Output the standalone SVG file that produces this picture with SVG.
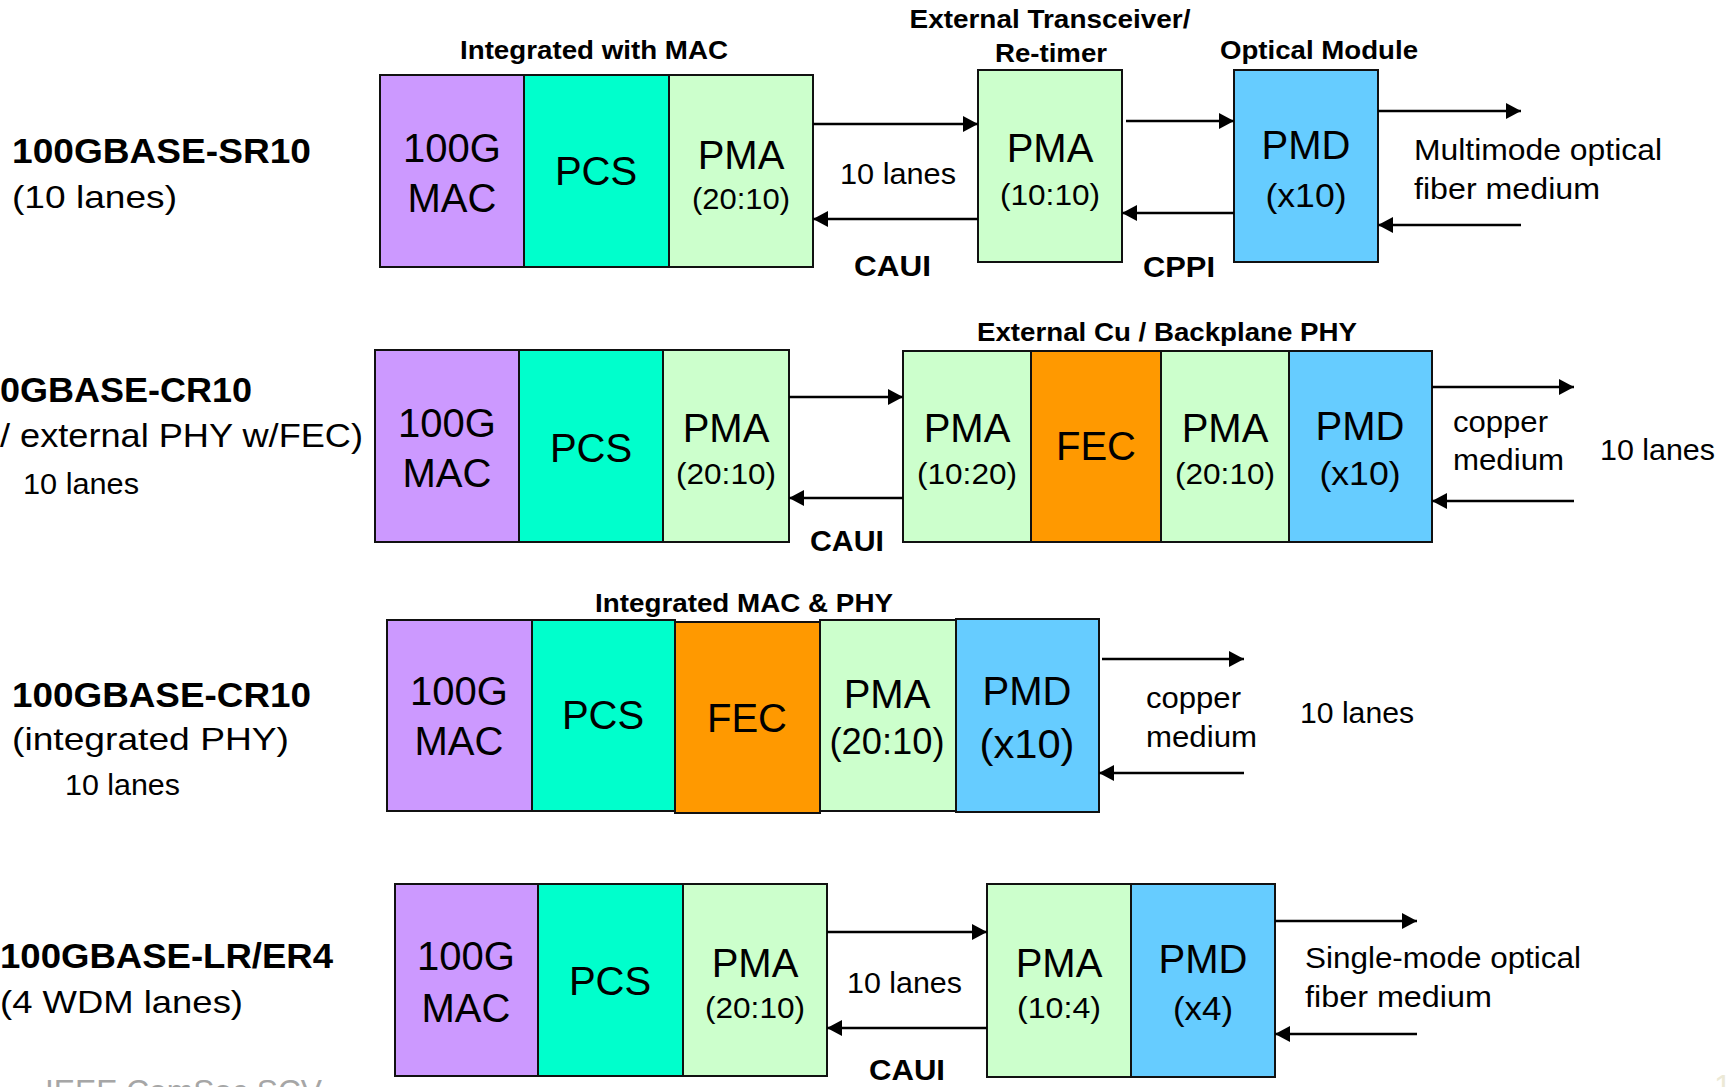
<svg xmlns="http://www.w3.org/2000/svg" width="1733" height="1087" viewBox="0 0 1733 1087">
<style>
text{font-family:"Liberation Sans",Arial,sans-serif;fill:#000}
.t{font-weight:bold;font-size:35px}
.s{font-size:32px}
.h{font-weight:bold;font-size:26px}
.b{font-size:40px;text-anchor:middle}
.sub{font-size:30px;text-anchor:middle}
.m{font-size:29px}
.lb{font-weight:bold;font-size:29px}
.box{stroke:#111;stroke-width:2}
.mac{fill:#cc99ff}.pcs{fill:#00ffcc}.pma{fill:#ccffcc}.pmd{fill:#66ccff}.fec{fill:#ff9900}
.c line{stroke:#000;stroke-width:2.6;marker-end:url(#ah)}
</style>
<defs>
<marker id="ah" markerUnits="userSpaceOnUse" markerWidth="16" markerHeight="16" refX="15" refY="8" orient="auto"><path d="M0,0 L15,8 L0,16 z" fill="#000"/></marker>
</defs>
<rect x="0" y="0" width="1733" height="1087" fill="#fff"/>

<!-- Row 1 -->
<g id="row1-label">
<text class="t" x="12" y="163" textLength="299" lengthAdjust="spacingAndGlyphs">100GBASE-SR10</text>
<text class="s" x="12" y="208" textLength="165" lengthAdjust="spacingAndGlyphs">(10 lanes)</text>
<text class="h" x="594" y="59" text-anchor="middle" textLength="268" lengthAdjust="spacingAndGlyphs">Integrated with MAC</text>
</g>
<g id="r1-mac"><rect class="box mac" x="380" y="75" width="144" height="192"/><text class="b" x="452" y="162">100G</text><text class="b" x="452" y="212">MAC</text></g>
<g id="r1-pcs"><rect class="box pcs" x="524" y="75" width="145" height="192"/><text class="b" x="596" y="185">PCS</text></g>
<g id="r1-pma"><rect class="box pma" x="669" y="75" width="144" height="192"/><text class="b" x="741" y="169">PMA</text><text class="sub" x="741" y="209" textLength="98" lengthAdjust="spacingAndGlyphs">(20:10)</text></g>
<g id="r1-ext-label">
<text class="h" x="1050" y="28" text-anchor="middle" textLength="281" lengthAdjust="spacingAndGlyphs">External Transceiver/</text>
<text class="h" x="1051" y="62" text-anchor="middle" textLength="112" lengthAdjust="spacingAndGlyphs">Re-timer</text>
</g>
<g id="r1-ext-pma"><rect class="box pma" x="978" y="70" width="144" height="192"/><text class="b" x="1050" y="162">PMA</text><text class="sub" x="1050" y="205" textLength="100" lengthAdjust="spacingAndGlyphs">(10:10)</text></g>
<g id="r1-optical-label"><text class="h" x="1319" y="59" text-anchor="middle" textLength="198" lengthAdjust="spacingAndGlyphs">Optical Module</text></g>
<g id="r1-pmd"><rect class="box pmd" x="1234" y="70" width="144" height="192"/><text class="b" x="1306" y="159">PMD</text><text class="sub" x="1306" y="207" style="font-size:34px" textLength="81" lengthAdjust="spacingAndGlyphs">(x10)</text></g>
<g id="r1-medium">
<text class="m" x="1414" y="160" textLength="248" lengthAdjust="spacingAndGlyphs">Multimode optical</text>
<text class="m" x="1414" y="199" textLength="186" lengthAdjust="spacingAndGlyphs">fiber medium</text>
</g>
<g id="r1-iface">
<text class="m" x="840" y="184" textLength="116" lengthAdjust="spacingAndGlyphs">10 lanes</text>
<text class="lb" x="854" y="276" textLength="77" lengthAdjust="spacingAndGlyphs">CAUI</text>
<text class="lb" x="1143" y="277" textLength="72" lengthAdjust="spacingAndGlyphs">CPPI</text>
</g>

<!-- Row 2 -->
<g id="row2-label">
<text class="t" x="0" y="402" textLength="252" lengthAdjust="spacingAndGlyphs">0GBASE-CR10</text>
<text class="s" x="0" y="447" style="font-size:34px" textLength="363" lengthAdjust="spacingAndGlyphs">/ external PHY w/FEC)</text>
<text class="m" x="23" y="494" textLength="116" lengthAdjust="spacingAndGlyphs">10 lanes</text>
</g>
<g id="r2-mac"><rect class="box mac" x="375" y="350" width="144" height="192"/><text class="b" x="447" y="437">100G</text><text class="b" x="447" y="487">MAC</text></g>
<g id="r2-pcs"><rect class="box pcs" x="519" y="350" width="144" height="192"/><text class="b" x="591" y="462">PCS</text></g>
<g id="r2-pma"><rect class="box pma" x="663" y="350" width="126" height="192"/><text class="b" x="726" y="442">PMA</text><text class="sub" x="726" y="484" textLength="100" lengthAdjust="spacingAndGlyphs">(20:10)</text></g>
<g id="r2-ext-label"><text class="h" x="1167" y="341" text-anchor="middle" textLength="380" lengthAdjust="spacingAndGlyphs">External Cu / Backplane PHY</text></g>
<g id="r2-pma1"><rect class="box pma" x="903" y="351" width="128" height="191"/><text class="b" x="967" y="442">PMA</text><text class="sub" x="967" y="484" textLength="100" lengthAdjust="spacingAndGlyphs">(10:20)</text></g>
<g id="r2-fec"><rect class="box fec" x="1031" y="351" width="130" height="191"/><text class="b" x="1096" y="460">FEC</text></g>
<g id="r2-pma2"><rect class="box pma" x="1161" y="351" width="128" height="191"/><text class="b" x="1225" y="442">PMA</text><text class="sub" x="1225" y="484" textLength="100" lengthAdjust="spacingAndGlyphs">(20:10)</text></g>
<g id="r2-pmd"><rect class="box pmd" x="1289" y="351" width="143" height="191"/><text class="b" x="1360" y="440">PMD</text><text class="sub" x="1360" y="485" style="font-size:34px" textLength="81" lengthAdjust="spacingAndGlyphs">(x10)</text></g>
<g id="r2-medium">
<text class="m" x="1453" y="432" textLength="95" lengthAdjust="spacingAndGlyphs">copper</text>
<text class="m" x="1453" y="470" textLength="111" lengthAdjust="spacingAndGlyphs">medium</text>
<text class="m" x="1600" y="460" textLength="115" lengthAdjust="spacingAndGlyphs">10 lanes</text>
</g>
<g id="r2-iface"><text class="lb" x="810" y="551" textLength="74" lengthAdjust="spacingAndGlyphs">CAUI</text></g>

<!-- Row 3 -->
<g id="row3-label">
<text class="t" x="12" y="707" textLength="299" lengthAdjust="spacingAndGlyphs">100GBASE-CR10</text>
<text class="s" x="12" y="750" textLength="277" lengthAdjust="spacingAndGlyphs">(integrated PHY)</text>
<text class="m" x="65" y="795" textLength="115" lengthAdjust="spacingAndGlyphs">10 lanes</text>
<text class="h" x="744" y="612" text-anchor="middle" textLength="298" lengthAdjust="spacingAndGlyphs">Integrated MAC &amp; PHY</text>
</g>
<g id="r3-mac"><rect class="box mac" x="387" y="620" width="145" height="191"/><text class="b" x="459" y="705">100G</text><text class="b" x="459" y="755">MAC</text></g>
<g id="r3-pcs"><rect class="box pcs" x="532" y="620" width="143" height="191"/><text class="b" x="603" y="729">PCS</text></g>
<g id="r3-fec"><rect class="box fec" x="675" y="622" width="145" height="191"/><text class="b" x="747" y="732">FEC</text></g>
<g id="r3-pma"><rect class="box pma" x="820" y="620" width="136" height="191"/><text class="b" x="887" y="708">PMA</text><text class="sub" x="887" y="754" style="font-size:36px" textLength="115" lengthAdjust="spacingAndGlyphs">(20:10)</text></g>
<g id="r3-pmd"><rect class="box pmd" x="956" y="619" width="143" height="193"/><text class="b" x="1027" y="705">PMD</text><text class="b" x="1027" y="758" textLength="95" lengthAdjust="spacingAndGlyphs">(x10)</text></g>
<g id="r3-medium">
<text class="m" x="1146" y="708" textLength="95" lengthAdjust="spacingAndGlyphs">copper</text>
<text class="m" x="1146" y="747" textLength="111" lengthAdjust="spacingAndGlyphs">medium</text>
<text class="m" x="1300" y="723" textLength="114" lengthAdjust="spacingAndGlyphs">10 lanes</text>
</g>

<!-- Row 4 -->
<g id="row4-label">
<text class="t" x="0" y="968" textLength="333" lengthAdjust="spacingAndGlyphs">100GBASE-LR/ER4</text>
<text class="s" x="0" y="1013" textLength="243" lengthAdjust="spacingAndGlyphs">(4 WDM lanes)</text>
</g>
<g id="r4-mac"><rect class="box mac" x="395" y="884" width="143" height="192"/><text class="b" x="466" y="970">100G</text><text class="b" x="466" y="1022">MAC</text></g>
<g id="r4-pcs"><rect class="box pcs" x="538" y="884" width="145" height="192"/><text class="b" x="610" y="995">PCS</text></g>
<g id="r4-pma"><rect class="box pma" x="683" y="884" width="144" height="192"/><text class="b" x="755" y="977">PMA</text><text class="sub" x="755" y="1018" textLength="100" lengthAdjust="spacingAndGlyphs">(20:10)</text></g>
<g id="r4-ext-pma"><rect class="box pma" x="987" y="884" width="144" height="193"/><text class="b" x="1059" y="977">PMA</text><text class="sub" x="1059" y="1018" textLength="84" lengthAdjust="spacingAndGlyphs">(10:4)</text></g>
<g id="r4-pmd"><rect class="box pmd" x="1131" y="884" width="144" height="193"/><text class="b" x="1203" y="973">PMD</text><text class="sub" x="1203" y="1020" style="font-size:34px" textLength="60" lengthAdjust="spacingAndGlyphs">(x4)</text></g>
<g id="r4-medium">
<text class="m" x="1305" y="968" textLength="276" lengthAdjust="spacingAndGlyphs">Single-mode optical</text>
<text class="m" x="1305" y="1007" textLength="187" lengthAdjust="spacingAndGlyphs">fiber medium</text>
</g>
<g id="r4-iface">
<text class="m" x="847" y="993" textLength="115" lengthAdjust="spacingAndGlyphs">10 lanes</text>
<text class="lb" x="869" y="1080" textLength="76" lengthAdjust="spacingAndGlyphs">CAUI</text>
</g>

<g id="footer">
<text x="45" y="1102" style="font-size:32px;fill:#a6a6a6" textLength="277" lengthAdjust="spacingAndGlyphs">IEEE ComSoc SCV</text>
<text x="1714" y="1097" style="font-size:32px;fill:#ece9d6">14</text>
</g>

<g id="connectors" class="c">
<line x1="813" y1="124" x2="978" y2="124"/>
<line x1="978" y1="219" x2="813" y2="219"/>
<line x1="1126" y1="121" x2="1234" y2="121"/>
<line x1="1234" y1="213" x2="1122" y2="213"/>
<line x1="1378" y1="111" x2="1521" y2="111"/>
<line x1="1521" y1="225" x2="1378" y2="225"/>

<line x1="789" y1="397" x2="903" y2="397"/>
<line x1="903" y1="498" x2="789" y2="498"/>
<line x1="1432" y1="387" x2="1574" y2="387"/>
<line x1="1574" y1="501" x2="1432" y2="501"/>

<line x1="1102" y1="659" x2="1244" y2="659"/>
<line x1="1244" y1="773" x2="1099" y2="773"/>

<line x1="827" y1="932" x2="987" y2="932"/>
<line x1="987" y1="1028" x2="827" y2="1028"/>
<line x1="1275" y1="921" x2="1417" y2="921"/>
<line x1="1417" y1="1034" x2="1275" y2="1034"/>
</g>
</svg>
